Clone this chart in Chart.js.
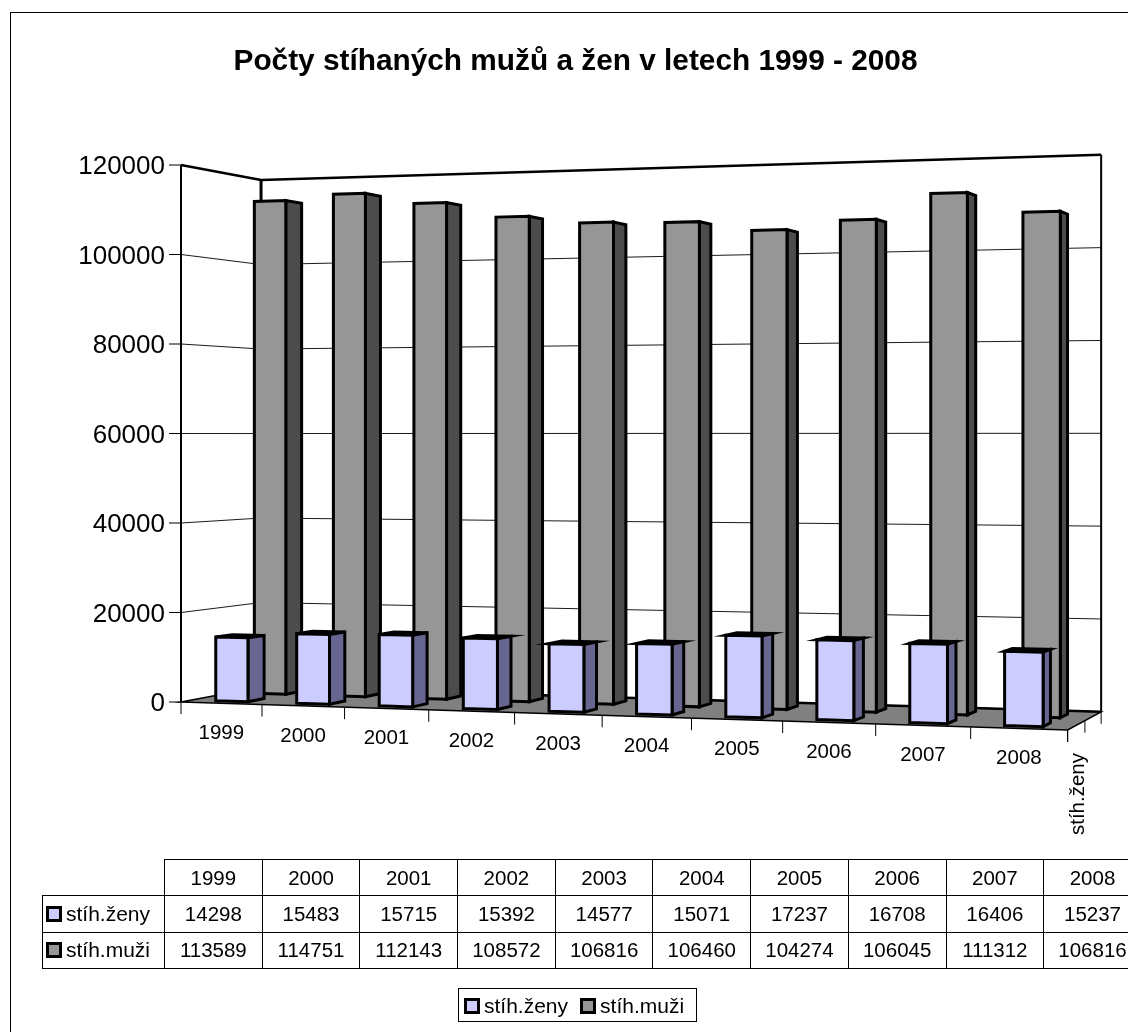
<!DOCTYPE html>
<html>
<head>
<meta charset="utf-8">
<title>Počty stíhaných mužů a žen</title>
<script src="https://cdn.jsdelivr.net/npm/chart.js@4"></script>
<style>
  html, body { margin: 0; padding: 0; background: #fff; overflow: hidden; }
  body { width: 1128px; height: 1032px; position: relative; font-family: "Liberation Sans", Arial, sans-serif; color: #000; }
  #frame { position: absolute; left: 10px; top: 12px; width: 1200px; height: 1100px; border: 1px solid #000; }
  canvas { position: absolute; left: 0; top: 0; }
  #dataTable { position: absolute; left: 42px; top: 859px; border-collapse: collapse; table-layout: fixed; font-size: 20.5px; }
  #dataTable td { border: 1px solid #000; height: 35.3px; padding: 0; text-align: center; white-space: nowrap; }
  #dataTable td.blank { border: none; }
  #dataTable td.name { text-align: left; padding-left: 3px; font-size: 21px; }
  .key { display: inline-block; width: 10px; height: 10px; border: 3px solid #000; margin-right: 4px; vertical-align: -1px; }
  #legend { position: absolute; left: 458px; top: 988px; width: 239px; height: 34px; border: 1px solid #000; font-size: 21px; line-height: 33px; white-space: nowrap; padding-left: 5px; box-sizing: border-box; }
  #legend span.item { margin-right: 12px; }
</style>
</head>
<body>
<div id="frame"></div>
<canvas id="chart" width="1128" height="1032"></canvas>
<table id="dataTable"></table>
<div id="legend"></div>
<script>
const years = ["1999", "2000", "2001", "2002", "2003", "2004", "2005", "2006", "2007", "2008"];
const zeny = [14298, 15483, 15715, 15392, 14577, 15071, 17237, 16708, 16406, 15237];
const muzi = [113589, 114751, 112143, 108572, 106816, 106460, 104274, 106045, 111312, 106816];
const seriesNames = ["stíh.ženy", "stíh.muži"];
const yTicks = [0, 20000, 40000, 60000, 80000, 100000, 120000];
const titleText = "Počty stíhaných mužů a žen v letech 1999 - 2008";

const frontColors = ["#CCCCFF", "#969696"];
const sideColors = ["#666690", "#4C4C4C"];
const topColors = ["#9999CC", "#707070"];
const depthRows = [[0.128, 0.33], [0.61, 0.82]];

// perspective of the box: u along the years, d into the page, h up
function project(u, d, h) {
  let w = 1 - 0.0952 * u + 0.0592 * d;
  return {
    x: (181 + 785 * u + 95.5 * d) / w,
    y: (702 - 41.5 * u + 25.7 * d - 537 * h) / w,
  };
}

function poly(ctx, pts, fill, lineWidth) {
  ctx.beginPath();
  pts.forEach((p, i) => (i ? ctx.lineTo(p.x, p.y) : ctx.moveTo(p.x, p.y)));
  ctx.closePath();
  if (fill) {
    ctx.fillStyle = fill;
    ctx.fill();
  }
  ctx.lineWidth = lineWidth;
  ctx.strokeStyle = "#000";
  ctx.stroke();
}

function line(ctx, a, b, lineWidth) {
  ctx.beginPath();
  ctx.moveTo(a.x, a.y);
  ctx.lineTo(b.x, b.y);
  ctx.lineWidth = lineWidth;
  ctx.strokeStyle = "#000";
  ctx.stroke();
}

const box3d = {
  id: "box3d",
  beforeDatasetsDraw(chart) {
    const ctx = chart.ctx;
    const yScale = chart.scales.y;
    const xScale = chart.scales.x;
    const area = chart.chartArea;
    const toH = (v) => (area.bottom - yScale.getPixelForValue(v)) / (area.bottom - area.top);
    ctx.save();

    // walls and gridlines
    yTicks.forEach((v) => {
      let h = toH(v);
      if (v > 0 && v < yTicks[yTicks.length - 1]) {
        line(ctx, project(0, 0, h), project(0, 1, h), 0.9);
        line(ctx, project(0, 1, h), project(1, 1, h), 0.9);
      }
      line(ctx, { x: 169, y: project(0, 0, h).y }, project(0, 0, h), 1);
    });
    line(ctx, project(0, 0, 0), project(0, 0, 1), 2);
    line(ctx, project(0, 0, 1), project(0, 1, 1), 2.5);
    line(ctx, project(0, 1, 0), project(0, 1, 1), 3);
    line(ctx, project(0, 1, 1), project(1, 1, 1), 2.5);
    line(ctx, project(1, 1, 0), project(1, 1, 1), 2);

    // floor
    poly(ctx, [project(0, 0, 0), project(1, 0, 0), project(1, 1, 0), project(0, 1, 0)], "#808080", 1.5);
    line(ctx, project(0, 1, 0), project(1, 1, 0), 2.5);

    // ticks and labels along the front edge
    for (let i = 0; i <= years.length; i++) {
      let p = project(i / years.length, 0, 0);
      line(ctx, p, { x: p.x, y: p.y + 12 }, 1);
    }
    ctx.fillStyle = "#000";
    ctx.font = '20.5px "Liberation Sans"';
    ctx.textAlign = "center";
    ctx.textBaseline = "middle";
    years.forEach((year, i) => {
      let u = (xScale.getPixelForValue(i) - area.left) / (area.right - area.left);
      let p = project(u, 0, 0);
      ctx.fillText(year, p.x, p.y + 30);
    });

    // depth axis on the right
    [0, 0.5, 1].forEach((d) => {
      let p = project(1, d, 0);
      line(ctx, p, { x: p.x, y: p.y + 12 }, 1);
    });
    let q = project(1, 0.25, 0);
    ctx.save();
    ctx.translate(q.x + 2, 794);
    ctx.rotate(-Math.PI / 2);
    ctx.fillStyle = "#000";
    ctx.fillText(seriesNames[0], 0, 0);
    ctx.restore();
    ctx.restore();
  },
  beforeDatasetDraw(chart, args) {
    const ctx = chart.ctx;
    const i = args.index;
    const area = chart.chartArea;
    const toU = (px) => (px - area.left) / (area.right - area.left);
    const toH = (py) => (area.bottom - py) / (area.bottom - area.top);
    const d0 = depthRows[i][0];
    const d1 = depthRows[i][1];
    ctx.save();
    ctx.lineJoin = "miter";
    args.meta.data.forEach((bar) => {
      let u0 = toU(bar.x - bar.width / 2);
      let u1 = toU(bar.x + bar.width / 2);
      let h = toH(bar.y);
      // the top face only shows on bars lower than the eye
      if (project(u0, d1, h).y < project(u0, d0, h).y) {
        poly(ctx, [project(u0, d0, h), project(u1, d0, h), project(u1, d1, h), project(u0, d1, h)], topColors[i], 3);
      }
      poly(ctx, [project(u1, d0, 0), project(u1, d1, 0), project(u1, d1, h), project(u1, d0, h)], sideColors[i], 3);
      poly(ctx, [project(u0, d0, 0), project(u1, d0, 0), project(u1, d0, h), project(u0, d0, h)], frontColors[i], 3);
    });
    ctx.restore();
    return false;
  },
};

new Chart(document.getElementById("chart"), {
  type: "bar",
  data: {
    labels: years,
    datasets: [
      { label: seriesNames[0], data: zeny, backgroundColor: frontColors[0], grouped: false, barPercentage: 0.4, categoryPercentage: 1 },
      { label: seriesNames[1], data: muzi, backgroundColor: frontColors[1], grouped: false, barPercentage: 0.4, categoryPercentage: 1 },
    ],
  },
  options: {
    responsive: false,
    animation: false,
    layout: { padding: { left: 70, right: 47, top: 0, bottom: 330 } },
    plugins: {
      legend: { display: false },
      tooltip: { enabled: false },
      title: {
        display: true,
        text: titleText,
        color: "#000",
        font: { family: "Liberation Sans", size: 29.8, weight: "bold", lineHeight: 1.2 },
        padding: { top: 44, bottom: 85.24 },
      },
    },
    scales: {
      x: { display: false },
      y: {
        min: 0,
        max: 120000,
        afterFit(scale) {
          scale.width = 111;
        },
        afterBuildTicks(scale) {
          scale.ticks = yTicks.map((v) => ({ value: v }));
        },
        grid: { display: false },
        border: { display: false },
        ticks: {
          color: "#000",
          padding: 8,
          labelOffset: 2,
          font: { family: "Liberation Sans", size: 26 },
          callback: (v) => String(v),
        },
      },
    },
  },
  plugins: [box3d],
});

// data table and legend under the chart
function keyHtml(i) {
  return `<span class="key" style="background:${frontColors[i]}"></span>`;
}

let table = `<colgroup><col style="width:122px">${years.map(() => '<col style="width:97.7px">').join("")}</colgroup>`;
table += `<tr><td class="blank"></td>${years.map((y) => `<td>${y}</td>`).join("")}</tr>`;
[zeny, muzi].forEach((values, i) => {
  table += `<tr><td class="name">${keyHtml(i)}${seriesNames[i]}</td>${values.map((v) => `<td>${v}</td>`).join("")}</tr>`;
});
document.getElementById("dataTable").innerHTML = table;
document.getElementById("dataTable").style.width = 122 + 97.7 * years.length + "px";
document.getElementById("legend").innerHTML = seriesNames
  .map((name, i) => `<span class="item">${keyHtml(i)}${name}</span>`)
  .join("");
</script>
</body>
</html>
